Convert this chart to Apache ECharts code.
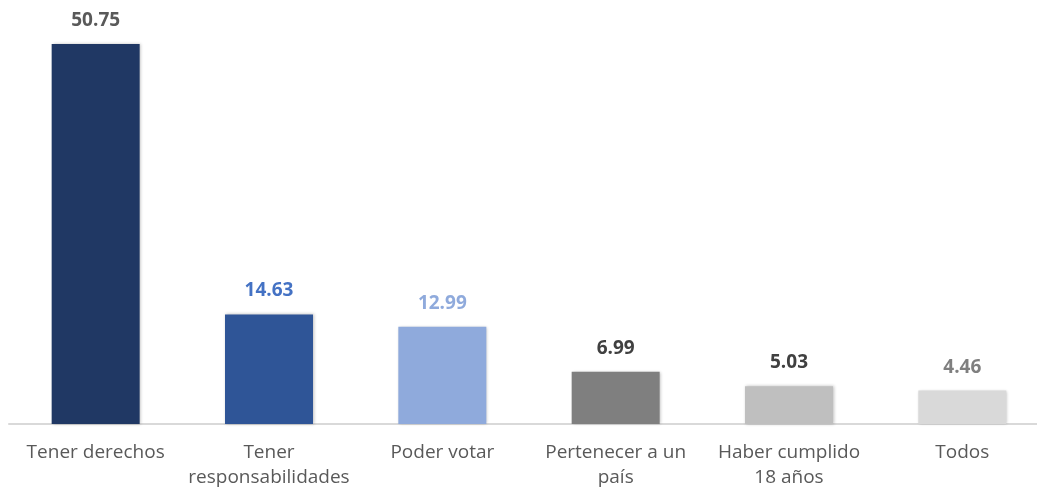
<!DOCTYPE html>
<html>
<head>
<meta charset="utf-8">
<script src="https://cdn.jsdelivr.net/npm/echarts@6/dist/echarts.min.js"></script>
<style>
    html, body { margin: 0; padding: 0; background: #fff; }
    #chart { width: 1037px; height: 490px; }
</style>
</head>
<body>
<div id="chart"></div>
<script>
    // categories and values
    const categories = ['Tener derechos', 'Tener\nresponsabilidades', 'Poder votar',
        'Pertenecer a un\npaís', 'Haber cumplido\n18 años', 'Todos'];
    const values = [50.75, 14.63, 12.99, 6.99, 5.03, 4.46];
    const barColors = ['#203864', '#2f5597', '#8faadc', '#7f7f7f', '#bfbfbf', '#d9d9d9'];
    const labelColors = ['#595959', '#4472c4', '#8faadc', '#404040', '#404040', '#7f7f7f'];

    let myChart = echarts.init(document.getElementById('chart'));
    let option = {
        animation: false,
        grid: {
            left: 9,
            width: 1040,
            top: 44,
            bottom: 66,
            outerBoundsMode: 'none',
            containLabel: false
        },
        xAxis: {
            type: 'category',
            data: categories,
            axisTick: {show: false},
            axisLine: {lineStyle: {color: '#d9d9d9', width: 2}},
            axisLabel: {
                color: '#595959',
                fontSize: 19,
                fontFamily: 'Open Sans',
                lineHeight: 25,
                margin: 16,
                interval: 0
            }
        },
        yAxis: {
            type: 'value',
            min: 0,
            max: 50.75,
            show: false,
            splitLine: {show: false}
        },
        series: [{
            type: 'bar',
            barWidth: 88,
            data: values.map((v, i) => ({
                value: v,
                itemStyle: {color: barColors[i]},
                label: {color: labelColors[i]}
            })),
            itemStyle: {
                shadowColor: 'rgba(0,0,0,0.25)',
                shadowBlur: 3,
                shadowOffsetX: 1
            },
            label: {
                show: true,
                position: 'top',
                distance: 14,
                fontSize: 19,
                fontWeight: 'bold',
                fontFamily: 'Open Sans',
                formatter: p => p.value.toFixed(2)
            }
        }]
    };
    myChart.setOption(option);
</script>
</body>
</html>
